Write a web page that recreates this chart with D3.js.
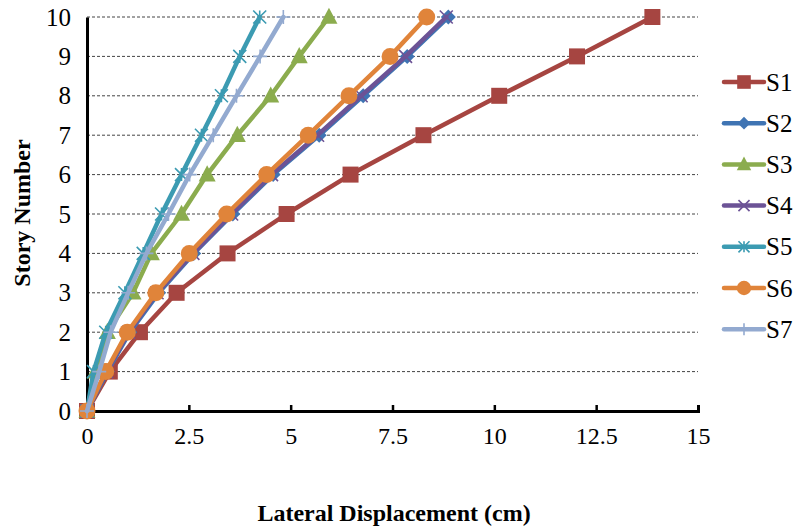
<!DOCTYPE html>
<html>
<head>
<meta charset="utf-8">
<script src="https://cdn.jsdelivr.net/npm/d3@7/dist/d3.min.js"></script>
<style>
  html, body { margin: 0; padding: 0; background: #fff; }
  svg { display: block; }
  svg text { font-family: "Liberation Serif", "DejaVu Serif", "Times New Roman", Times, serif !important; fill: #000; }
</style>
</head>
<body>
<svg id="chart" width="809" height="531"></svg>
<script>
// Story levels and lateral displacement (cm) for each structure
const stories = [0, 1, 2, 3, 4, 5, 6, 7, 8, 9, 10];
const S1 = [0, 0.56, 1.30, 2.20, 3.45, 4.90, 6.47, 8.26, 10.12, 12.03, 13.88];
const S2 = [0, 0.50, 1.05, 1.76, 2.62, 3.58, 4.57, 5.70, 6.78, 7.86, 8.87];
const S3 = [0, 0.20, 0.50, 1.13, 1.58, 2.32, 2.95, 3.69, 4.51, 5.21, 5.94];
const S4 = [0, 0.48, 1.02, 1.72, 2.60, 3.55, 4.53, 5.66, 6.73, 7.82, 8.82];
const S5 = [0, 0.16, 0.46, 0.93, 1.38, 1.83, 2.32, 2.81, 3.30, 3.75, 4.24];
const S6 = [0, 0.46, 0.99, 1.69, 2.51, 3.43, 4.41, 5.43, 6.43, 7.44, 8.34];
const S7 = [0, 0.30, 0.58, 1.01, 1.46, 2.00, 2.52, 3.10, 3.67, 4.25, 4.82];

const seriesNames = ["S1", "S2", "S3", "S4", "S5", "S6", "S7"];
const seriesValues = [S1, S2, S3, S4, S5, S6, S7];
const xTicks = [0, 2.5, 5, 7.5, 10, 12.5, 15];
const yTicks = [0, 1, 2, 3, 4, 5, 6, 7, 8, 9, 10];

const colors = ["#A64541", "#3F74B3", "#8BAC4E", "#6C5396", "#3C9BB2", "#E0843A", "#93AAD0"];
const markers = ["square", "diamond", "triangle", "x", "star", "circle", "plus"];
const serif = "Liberation Serif, DejaVu Serif, Times New Roman, serif";

const svg = d3.select("#chart");
const x = d3.scaleLinear().domain([0, 15]).range([87, 698]);
const y = d3.scaleLinear().domain([0, 10]).range([411, 17]);

// horizontal dashed gridlines
svg.append("g")
  .selectAll("line")
  .data(yTicks.filter(d => d > 0))
  .join("line")
  .attr("x1", x(0)).attr("x2", x(15))
  .attr("y1", d => y(d)).attr("y2", d => y(d))
  .attr("stroke", "#444").attr("stroke-width", 1)
  .attr("stroke-dasharray", "3,2");

// x axis with inward ticks
const xAxis = svg.append("g")
  .attr("transform", `translate(0,${y(0)})`)
  .call(d3.axisBottom(x).tickValues(xTicks).tickSize(-6).tickPadding(21).tickFormat(d3.format("")));
xAxis.attr("font-family", serif).attr("font-size", 24);
xAxis.select(".domain").attr("stroke", "#000").attr("stroke-width", 3);
xAxis.selectAll(".tick line").attr("stroke", "#000").attr("stroke-width", 2.5);
xAxis.selectAll(".tick text").attr("fill", "#000").attr("dy", "0.5em");

// y axis
const yAxis = svg.append("g")
  .attr("transform", `translate(${x(0)},0)`)
  .call(d3.axisLeft(y).tickValues(yTicks).tickSize(0).tickPadding(16).tickFormat(d3.format("d")));
yAxis.attr("font-family", serif).attr("font-size", 25);
yAxis.select(".domain").attr("stroke", "#000").attr("stroke-width", 3);
yAxis.selectAll(".tick text").attr("fill", "#000");

// marker drawing
function drawMarker(g, type, color, cx, cy, scale) {
  const s = scale || 1;
  if (type === "square") {
    const h = 8 * s;
    g.append("rect").attr("x", cx - h).attr("y", cy - h).attr("width", 2 * h).attr("height", 2 * h)
      .attr("fill", color);
  } else if (type === "diamond") {
    const h = 7.5 * s;
    g.append("path").attr("d", `M${cx},${cy - h}L${cx + h},${cy}L${cx},${cy + h}L${cx - h},${cy}Z`)
      .attr("fill", color);
  } else if (type === "triangle") {
    const h = 8.5 * s;
    g.append("path").attr("d", `M${cx},${cy - h * 1.1}L${cx + h},${cy + h * 0.8}L${cx - h},${cy + h * 0.8}Z`)
      .attr("fill", color);
  } else if (type === "circle") {
    g.append("circle").attr("cx", cx).attr("cy", cy).attr("r", 8.5 * s).attr("fill", color);
  } else if (type === "x") {
    const h = 6.5 * s;
    g.append("path").attr("d", `M${cx - h},${cy - h}L${cx + h},${cy + h}M${cx - h},${cy + h}L${cx + h},${cy - h}`)
      .attr("stroke", color).attr("stroke-width", 1.6).attr("fill", "none");
  } else if (type === "star") {
    const h = 6.5 * s;
    g.append("path").attr("d", `M${cx - h},${cy - h}L${cx + h},${cy + h}M${cx - h},${cy + h}L${cx + h},${cy - h}M${cx},${cy - h}L${cx},${cy + h}`)
      .attr("stroke", color).attr("stroke-width", 1.6).attr("fill", "none");
  } else if (type === "plus") {
    const h = 7 * s;
    g.append("path").attr("d", `M${cx - h},${cy}L${cx + h},${cy}M${cx},${cy - h}L${cx},${cy + h}`)
      .attr("stroke", color).attr("stroke-width", 1.6).attr("fill", "none");
  }
}

// series lines and markers
const line = d3.line().x(d => x(d[0])).y(d => y(d[1]));
seriesValues.forEach((vals, i) => {
  const g = svg.append("g");
  const pts = vals.map((v, k) => [v, stories[k]]);
  g.append("path").datum(pts).attr("d", line)
    .attr("fill", "none").attr("stroke", colors[i]).attr("stroke-width", 4.5)
    .attr("stroke-linejoin", "round").attr("stroke-linecap", "round");
  pts.forEach(p => drawMarker(g, markers[i], colors[i], x(p[0]), y(p[1]), 1));
});

// legend
const legend = svg.append("g");
seriesNames.forEach((name, i) => {
  const ly = 82 + i * 41.2;
  legend.append("line").attr("x1", 724).attr("x2", 764).attr("y1", ly).attr("y2", ly)
    .attr("stroke", colors[i]).attr("stroke-width", 4.5).attr("stroke-linecap", "round");
  drawMarker(legend, markers[i], colors[i], 744, ly, 0.85);
  legend.append("text").attr("x", 766).attr("y", ly + 8.5)
    .attr("font-family", serif).attr("font-size", 25).text(name);
});

// axis titles
svg.append("text").attr("x", 394).attr("y", 521).attr("text-anchor", "middle")
  .attr("font-family", serif).attr("font-size", 24).attr("font-weight", "bold")
  .text("Lateral Displacement (cm)");
svg.append("text").attr("transform", "translate(30,213) rotate(-90)").attr("text-anchor", "middle")
  .attr("font-family", serif).attr("font-size", 24).attr("font-weight", "bold")
  .text("Story Number");
</script>
</body>
</html>
